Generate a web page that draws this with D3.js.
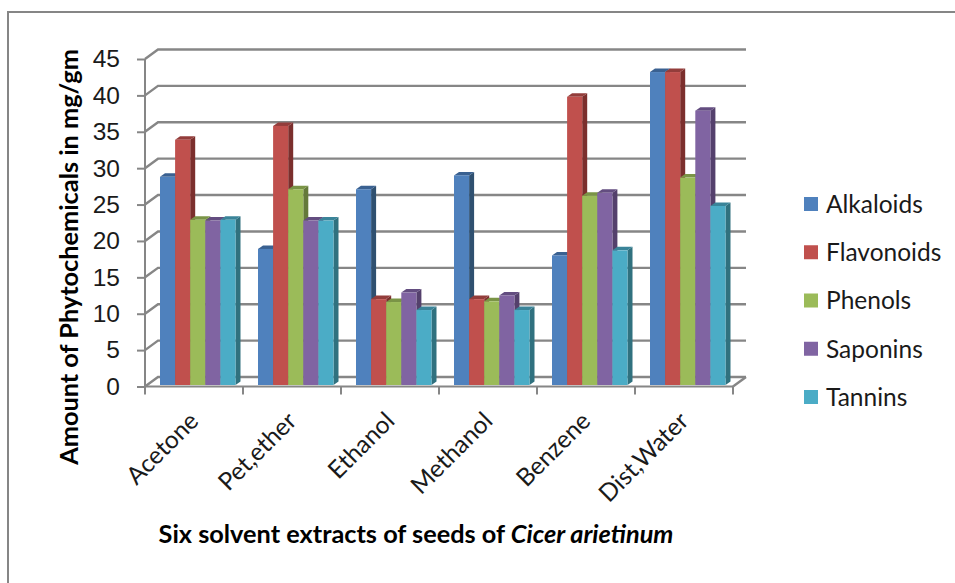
<!DOCTYPE html>
<html lang="en">
<head>
  <meta charset="UTF-8">
  <title>Phytochemicals in Cicer arietinum</title>
  <style>
    html, body { margin: 0; padding: 0; background: #fff; overflow: hidden; }
    svg { display: block; font-family: Lato, sans-serif; }
    .axis path { display: none; }
    .axis line { stroke: #868686; stroke-width: 2; }
    .axis text { font-size: 24.5px; fill: #1a1a1a; }
    .wall { stroke: #868686; stroke-width: 2.4; fill: none; }
    .legend text { font-size: 24.5px; fill: #1a1a1a; }
    .title { font-size: 25.3px; font-weight: bold; fill: #000; }
  </style>
</head>
<body>
  <script src="https://d3js.org/d3.v7.min.js"></script>
  <script>
    // chart data
    const categories = ['Acetone', 'Pet,ether', 'Ethanol', 'Methanol', 'Benzene', 'Dist,Water'];
    const seriesNames = ['Alkaloids', 'Flavonoids', 'Phenols', 'Saponins', 'Tannins'];
    const alkaloids = [28.6, 18.7, 26.9, 28.8, 17.8, 43.0];
    const flavonoids = [33.7, 35.6, 11.8, 11.8, 39.6, 43.0];
    const phenols = [22.7, 26.9, 11.4, 11.5, 26.0, 28.5];
    const saponins = [22.6, 22.6, 12.7, 12.3, 26.4, 37.7];
    const tannins = [22.7, 22.6, 10.3, 10.3, 18.5, 24.6];
    const allSeries = [alkaloids, flavonoids, phenols, saponins, tannins];
    const yTicks = [0, 5, 10, 15, 20, 25, 30, 35, 40, 45];

    // front, side and top colours of each series
    const frontColors = ['#4f81bd', '#c0504d', '#9bbb59', '#8064a2', '#4bacc6'];
    const sideColors = ['#2f5070', '#7b2f2d', '#64793a', '#54406c', '#30717f'];
    const topColors = ['#3a6191', '#933d3b', '#7a9446', '#634d80', '#3a8499'];

    const WIDTH = 955;
    const HEIGHT = 583;
    const DEPTH_X = 13; // floor depth of the 3d box
    const DEPTH_Y = 9.5;
    const BAR_DX = 5; // depth of a single bar
    const BAR_DY = 3.5;

    const svg = d3.select('body').append('svg')
      .attr('width', WIDTH)
      .attr('height', HEIGHT);

    // outer frame
    svg.append('rect')
      .attr('x', 8).attr('y', 12)
      .attr('width', 960).attr('height', 600)
      .attr('fill', 'none')
      .attr('stroke', '#868686')
      .attr('stroke-width', 2);

    const scaleY = d3.scaleLinear().domain([0, 45]).range([386.5, 59]);
    const scaleX = d3.scaleBand().domain(categories).range([145, 733]);
    const scaleBar = d3.scaleBand().domain(seriesNames).range([15, 90.5]);

    // back wall gridlines and their diagonals
    const walls = svg.append('g').attr('class', 'walls');
    walls.selectAll('path.grid')
      .data(yTicks)
      .enter()
      .append('path')
      .attr('class', 'wall grid')
      .attr('d', d => {
        const y = scaleY(d);
        return `M145,${y}L${145 + DEPTH_X},${y - DEPTH_Y}H${733 + DEPTH_X}`;
      });
    walls.append('path')
      .attr('class', 'wall')
      .attr('d', `M733,${scaleY(0)}L${733 + DEPTH_X},${scaleY(0) - DEPTH_Y}`);

    // y axis
    svg.append('g')
      .attr('class', 'y axis')
      .attr('transform', 'translate(145,0)')
      .call(d3.axisLeft(scaleY).tickValues(yTicks).tickSize(8).tickPadding(17))
      .call(g => g.append('line')
        .attr('y1', scaleY(45)).attr('y2', scaleY(0)));

    // bars, drawn group by group
    const groups = svg.selectAll('g.group')
      .data(categories)
      .enter()
      .append('g')
      .attr('class', 'group')
      .attr('transform', d => `translate(${scaleX(d)},0)`);

    const barData = (c, i) => seriesNames.map((name, s) => ({ name, s, value: allSeries[s][i] }));
    const baseY = scaleY(0) - 1.5;
    const bars = groups.selectAll('g.bar')
      .data(barData)
      .enter()
      .append('g')
      .attr('class', 'bar');

    bars.append('path') // side face
      .attr('fill', d => sideColors[d.s])
      .attr('d', d => {
        const x = scaleBar(d.name) + scaleBar.bandwidth();
        const y = scaleY(d.value) - 1.5;
        return `M${x},${y}l${BAR_DX},${-BAR_DY}V${baseY - BAR_DY}L${x},${baseY}Z`;
      });
    bars.append('path') // top face
      .attr('fill', d => topColors[d.s])
      .attr('d', d => {
        const x = scaleBar(d.name);
        const y = scaleY(d.value) - 1.5;
        return `M${x},${y}l${BAR_DX},${-BAR_DY}h${scaleBar.bandwidth()}l${-BAR_DX},${BAR_DY}Z`;
      });
    bars.append('rect') // front face
      .attr('fill', d => frontColors[d.s])
      .attr('x', d => scaleBar(d.name))
      .attr('y', d => scaleY(d.value) - 1.5)
      .attr('width', scaleBar.bandwidth())
      .attr('height', d => baseY - scaleY(d.value) + 1.5);

    // x axis, ticks sit on the category edges
    const xAxisG = svg.append('g')
      .attr('class', 'x axis')
      .attr('transform', `translate(0,${scaleY(0)})`);
    xAxisG.append('line').attr('x1', 145).attr('x2', 733);
    xAxisG.selectAll('line.tick')
      .data(categories.concat('end'))
      .enter()
      .append('line')
      .attr('class', 'tick')
      .attr('x1', (d, i) => 145 + i * scaleX.step())
      .attr('x2', (d, i) => 145 + i * scaleX.step())
      .attr('y2', 8);
    xAxisG.selectAll('text')
      .data(categories)
      .enter()
      .append('text')
      .attr('text-anchor', 'end')
      .attr('transform', d => `translate(${scaleX(d) + scaleX.bandwidth() / 2 + 6},36) rotate(-45)`)
      .text(d => d);

    // legend
    const legend = svg.append('g').attr('class', 'legend');
    const scaleLegend = d3.scalePoint().domain(seriesNames).range([204, 397]);
    const items = legend.selectAll('g')
      .data(seriesNames)
      .enter()
      .append('g')
      .attr('transform', d => `translate(804,${scaleLegend(d)})`);
    items.append('rect')
      .attr('y', -7).attr('width', 14).attr('height', 14)
      .attr('fill', (d, i) => frontColors[i]);
    items.append('text')
      .attr('x', 22).attr('dy', '0.36em')
      .text(d => d);

    // titles
    svg.append('text')
      .attr('class', 'title')
      .attr('text-anchor', 'middle')
      .attr('transform', 'translate(78,257) rotate(-90)')
      .text('Amount of Phytochemicals in mg/gm');

    const xTitle = svg.append('text')
      .attr('class', 'title')
      .attr('x', 416).attr('y', 543)
      .attr('text-anchor', 'middle');
    xTitle.append('tspan').text('Six solvent extracts of seeds of ');
    xTitle.append('tspan').attr('font-style', 'italic').text('Cicer arietinum');
  </script>
</body>
</html>
